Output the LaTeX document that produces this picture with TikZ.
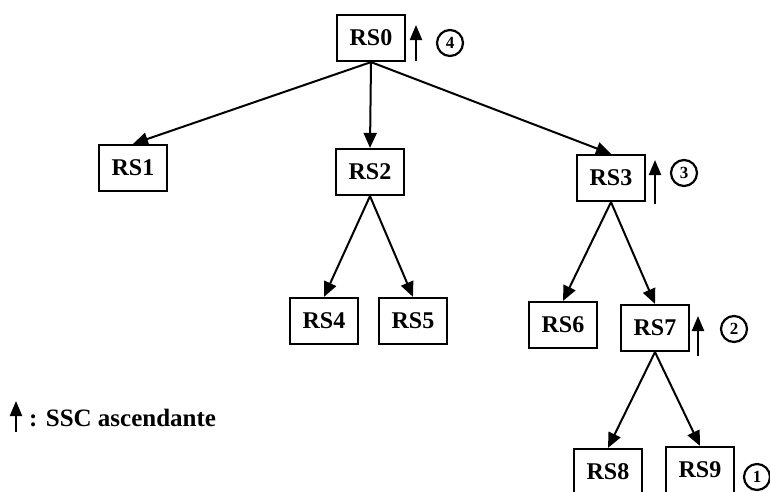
\documentclass[tikz,border=0pt]{standalone}
\usepackage{fontspec}
\setmainfont{Liberation Serif}
\usetikzlibrary{arrows.meta}
\begin{document}
\begin{tikzpicture}[x=1pt,y=-1pt,
  rsbox/.style={draw, line width=2.2pt, minimum width=68pt, minimum height=46pt,
    inner sep=0pt, font=\fontsize{24}{28}\selectfont\bfseries},
  link/.style={line width=2pt, -{Triangle[width=13pt,length=15pt]}},
  upflag/.style={line width=2.2pt, -{Triangle[width=12pt,length=15pt]}},
  stepnum/.style={draw, circle, line width=2.2pt, minimum size=26pt, inner sep=0pt,
    font=\fontsize{17}{19}\selectfont\bfseries},
  legendtext/.style={anchor=west, inner sep=0pt, font=\fontsize{25}{28}\selectfont\bfseries}]
  \useasboundingbox (0,0) rectangle (770,491);
  \clip (0,0) rectangle (770,491);

  % tree nodes
  \node[rsbox] (rs0) at (371,38) {RS0};
  \node[rsbox] (rs1) at (133,168) {RS1};
  \node[rsbox] (rs2) at (370,172) {RS2};
  \node[rsbox] (rs3) at (611,178) {RS3};
  \node[rsbox] (rs4) at (324,321) {RS4};
  \node[rsbox] (rs5) at (413,321) {RS5};
  \node[rsbox] (rs6) at (563,325) {RS6};
  \node[rsbox] (rs7) at (655,328) {RS7};
  \node[rsbox] (rs8) at (608,472) {RS8};
  \node[rsbox] (rs9) at (700,470) {RS9};

  % parent-child links
  \draw[link] (rs0.south) -- (rs1.north);
  \draw[link] (rs0.south) -- (rs2.north);
  \draw[link] (rs0.south) -- (rs3.north);
  \draw[link] (rs2.south) -- (rs4.north);
  \draw[link] (rs2.south) -- (rs5.north);
  \draw[link] (rs3.south) -- (rs6.north);
  \draw[link] (rs3.south) -- (rs7.north);
  \draw[link] (rs7.south) -- (rs8.north);
  \draw[link] (rs7.south) -- (rs9.north);

  % ascending SSC marks with their order
  \coordinate (u0a) at (416,61);  \coordinate (u0b) at (416,25);
  \coordinate (u3a) at (655,204); \coordinate (u3b) at (655,160);
  \coordinate (u7a) at (698,356); \coordinate (u7b) at (698,316);
  \draw[upflag] (u0a) -- (u0b);
  \draw[upflag] (u3a) -- (u3b);
  \draw[upflag] (u7a) -- (u7b);
  \node[stepnum] (n4) at (450,43) {4};
  \node[stepnum] (n3) at (684,173) {3};
  \node[stepnum] (n2) at (734,329) {2};
  \node[stepnum] (n1) at (757,477) {1};

  % legend
  \coordinate (la) at (16,432); \coordinate (lb) at (16,401);
  \draw[upflag] (la) -- (lb);
  \node[legendtext] (leg) at (29,418) {: SSC ascendante};
\end{tikzpicture}
\end{document}
